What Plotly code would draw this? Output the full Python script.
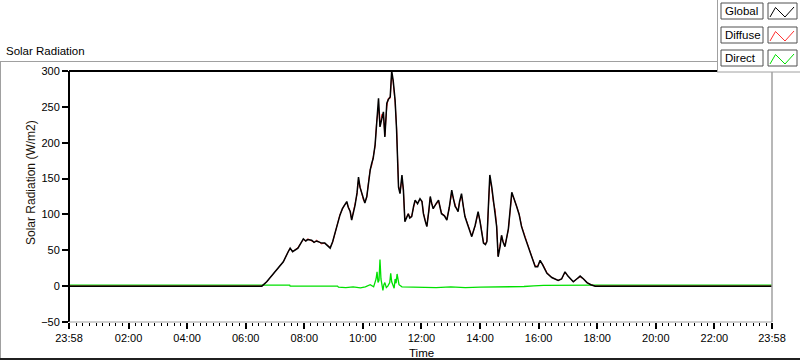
import plotly.graph_objects as go

# ---------------- data ----------------
START = "2024-01-01 23:58"
END = "2024-01-02 23:58"
DAY = "2024-01-02 "

global_times = [
    "06:33", "06:43", "07:00", "07:17", "07:27", "07:31", "07:36", "07:47", "07:58", "08:03",
    "08:07", "08:15", "08:20", "08:25", "08:29", "08:35", "08:42", "08:47", "08:53", "08:58",
    "09:03", "09:08", "09:13", "09:18", "09:22", "09:27", "09:30", "09:34", "09:37", "09:44",
    "09:48", "09:51", "09:54", "09:58", "10:01", "10:04", "10:08", "10:12", "10:15", "10:18",
    "10:21", "10:25", "10:28", "10:32", "10:35", "10:39", "10:42", "10:45", "10:49", "10:52",
    "10:56", "10:59", "11:02", "11:06", "11:09", "11:13", "11:16", "11:20", "11:23", "11:26",
    "11:30", "11:33", "11:36", "11:40", "11:44", "11:47", "11:52", "11:57", "12:01", "12:04",
    "12:08", "12:11", "12:15", "12:18", "12:21", "12:24", "12:30", "12:35", "12:38", "12:41",
    "12:47", "12:52", "12:57", "13:02", "13:06", "13:09", "13:12", "13:15", "13:18", "13:22",
    "13:26", "13:29", "13:35", "13:43", "13:50", "13:56", "14:00", "14:04", "14:07", "14:11",
    "14:14", "14:17", "14:20", "14:24", "14:27", "14:31", "14:34", "14:37", "14:41", "14:44",
    "14:47", "14:51", "14:58", "15:05", "15:10", "15:15", "15:20", "15:25", "15:32", "15:39",
    "15:46", "15:53", "15:58", "16:03", "16:08", "16:17", "16:27", "16:40", "16:47", "16:54",
    "17:00", "17:11", "17:18", "17:25", "17:32", "17:39", "17:47", "17:56"]
global_vals = [
    0, 6, 20, 34, 48, 53, 48, 53, 66, 63,
    65, 64, 61, 63, 62, 60, 60, 57, 53, 62,
    74, 88, 99, 108, 112, 118, 110, 104, 92, 113,
    130, 152, 138, 130, 121, 116, 125, 150, 162, 171,
    178, 197, 225, 262, 222, 236, 243, 208, 255, 260,
    264, 300, 287, 259, 218, 138, 129, 155, 134, 90,
    96, 101, 95, 97, 112, 120, 115, 122, 118, 101,
    90, 83, 105, 125, 115, 108, 115, 120, 110, 101,
    98, 92, 110, 134, 120, 111, 108, 104, 118, 129,
    110, 97, 85, 69, 85, 104, 90, 70, 60, 58,
    62, 110, 155, 138, 120, 105, 83, 41, 55, 71,
    62, 55, 80, 131, 122, 111, 100, 83, 68, 55,
    40, 27, 27, 36, 30, 18, 12, 8, 10, 20,
    14, 6, 10, 14, 10, 5, 2, 0]
diffuse_vals = [
    0, 6, 20, 34, 48, 53, 48, 54, 65, 63,
    66, 63, 61, 64, 62, 59, 60, 57, 54, 61,
    75, 87, 100, 107, 113, 116, 111, 104, 93, 114,
    128, 148, 139, 131, 120, 117, 124, 148, 163, 168,
    180, 195, 228, 250, 224, 240, 238, 210, 250, 262,
    262, 296, 285, 256, 222, 140, 130, 150, 133, 91,
    97, 101, 96, 98, 110, 118, 116, 121, 119, 102,
    91, 84, 104, 123, 116, 109, 114, 118, 111, 102,
    99, 93, 109, 130, 121, 112, 107, 105, 117, 126,
    111, 98, 86, 70, 84, 102, 91, 71, 61, 59,
    63, 108, 150, 136, 118, 106, 84, 42, 56, 70,
    63, 56, 79, 128, 121, 110, 101, 84, 69, 56,
    41, 28, 28, 35, 31, 19, 12, 8, 10, 19,
    14, 6, 10, 13, 10, 5, 2, 0]

direct_times = ["07:30", "07:31", "09:08", "09:10", "09:25", "09:40", "09:55", "10:05", "10:15",
                "10:22", "10:27", "10:29", "10:31", "10:33", "10:35", "10:37", "10:39", "10:41",
                "10:43", "10:45", "10:48", "10:51", "10:55", "10:57", "10:59", "11:01", "11:04",
                "11:06", "11:08", "11:10", "11:12", "11:14", "11:20", "11:40", "12:00", "12:30",
                "13:00", "13:30", "14:00", "14:30", "15:00", "15:30", "15:50", "16:10", "18:00"]
direct_vals = [1.5, 0, 0, -1.5, -2, -1, -2.5, -1, 2,
               -1, 10, 20, 5, 8, 37, 10, -1, -6,
               2, 5, -2, 0, 5, 18, 6, 3, -3,
               10, 4, 17, 5, 2, -1, -1.5, -1, -2,
               -1, -2, -1.5, -1, -1.5, -0.5, 0.5, 1, 1.5]

x_tick_labels = ["23:58", "02:00", "04:00", "06:00", "08:00", "10:00", "12:00",
                 "14:00", "16:00", "18:00", "20:00", "22:00", "23:58"]
y_ticks = [-50, 0, 50, 100, 150, 200, 250, 300]
legend_names = ["Global", "Diffuse", "Direct"]
legend_colors = ["#000000", "#ff3030", "#00e000"]


def full(ts):
    return [START] + [DAY + t for t in ts] + [END]


g_x = full(global_times)
g_y = [0] + global_vals + [0]
d_y = [0] + diffuse_vals + [0]
dir_x = full(direct_times)
dir_y = [1.5] + direct_vals + [1.5]

tick_vals = [START] + [DAY + t for t in x_tick_labels[1:-1]] + [END]

# ---------------- figure ----------------
L, R, T, B, W, H = 69, 772, 71, 322, 800, 361


def px(x):
    return (x - L) / (R - L)


def py(y):
    return (B - y) / (B - T)


fig = go.Figure()
fig.add_trace(go.Scatter(x=dir_x, y=dir_y, mode="lines", line=dict(color="#00e000", width=1.3), name="Direct"))
fig.add_trace(go.Scatter(x=g_x, y=d_y, mode="lines", line=dict(color="#ff2020", width=1.0), name="Diffuse"))
fig.add_trace(go.Scatter(x=g_x, y=g_y, mode="lines", line=dict(color="#000000", width=1.5), name="Global"))

fig.update_layout(
    width=W, height=H,
    margin=dict(l=L, r=W - R, t=T, b=H - B, pad=0),
    paper_bgcolor="white", plot_bgcolor="white",
    showlegend=False,
    font=dict(family="Liberation Sans", size=11, color="#000000"),
    xaxis=dict(type="date", range=[START, END], tickmode="array", tickvals=tick_vals,
               ticktext=x_tick_labels, ticks="outside", ticklen=6, tickwidth=2, tickcolor="#000000",
               showgrid=False, zeroline=False, showline=False,
               minor=dict(ticks="outside", ticklen=3, tickwidth=1, tickcolor="#000000",
                          dtick=800000, tick0=DAY + "02:00", showgrid=False)),
    yaxis=dict(range=[-50, 300], tickmode="array", tickvals=y_ticks, ticks="outside", ticklen=6,
               tickwidth=1.5, tickcolor="#000000", showgrid=False, zeroline=False, showline=False),
)

shapes = []


def line(x0, y0, x1, y1, color, width=1):
    shapes.append(dict(type="line", xref="paper", yref="paper", x0=px(x0), y0=py(y0), x1=px(x1), y1=py(y1),
                       line=dict(color=color, width=width), layer="above"))


def rect(x0, y0, x1, y1, color, fill="white", width=1):
    shapes.append(dict(type="rect", xref="paper", yref="paper", x0=px(x0), y0=py(y0), x1=px(x1), y1=py(y1),
                       line=dict(color=color, width=width), fillcolor=fill, layer="above"))


# outer frame
line(0, 61.5, 717, 61.5, "#a0a0a0", 1)
line(0.5, 61, 0.5, 359, "#a0a0a0", 1)
line(0, 359, 800, 359, "#202020", 2)
# plot frame
line(L, T, R, T, "#000000", 2)
line(L, T, L, B, "#000000", 2)
line(R, T, R, B, "#a0a0a0", 1.5)
line(L, B, R, B, "#a0a0a0", 1)

# legend panel
shapes.append(dict(type="rect", xref="paper", yref="paper", x0=px(717), y0=py(0), x1=px(801), y1=py(72),
                   line=dict(width=0), fillcolor="white", layer="above"))
line(717.5, 0, 717.5, 72, "#a0a0a0", 1)
line(717, 72, 800, 72, "#a0a0a0", 1)
rows = [3, 27, 50]
annotations = []
for name, col, y0 in zip(legend_names, legend_colors, rows):
    rect(721, y0, 763, y0 + 16, "#505050")
    rect(768, y0, 797, y0 + 16, "#505050")
    pts = [(770, y0 + 14), (775.5, y0 + 4.5), (785, y0 + 14), (794, y0 + 4)]
    path = "M " + " L ".join(f"{px(a)},{py(b)}" for a, b in pts)
    shapes.append(dict(type="path", xref="paper", yref="paper", path=path,
                       line=dict(color=col, width=1), layer="above"))
    annotations.append(dict(text=name, xref="paper", yref="paper", x=px(723), y=py(y0 + 8),
                            xanchor="left", yanchor="middle", showarrow=False,
                            font=dict(size=11.5, color="#000000")))

annotations.append(dict(text="Solar Radiation", xref="paper", yref="paper", x=px(4), y=py(51),
                        xanchor="left", yanchor="middle", showarrow=False, font=dict(size=11.5)))
annotations.append(dict(text="Time", xref="paper", yref="paper", x=px(421), y=py(353),
                        xanchor="center", yanchor="middle", showarrow=False, font=dict(size=11.5)))
annotations.append(dict(text="Solar Radiation (W/m2)", xref="paper", yref="paper", x=px(31), y=py(183),
                        xanchor="center", yanchor="middle", textangle=-90, showarrow=False,
                        font=dict(size=12, color="#1a1208")))

fig.update_layout(shapes=shapes, annotations=annotations)
fig.write_html("out.html", config={"displayModeBar": False},
               post_script="document.body.style.margin='0px';document.body.style.overflow='hidden';")
